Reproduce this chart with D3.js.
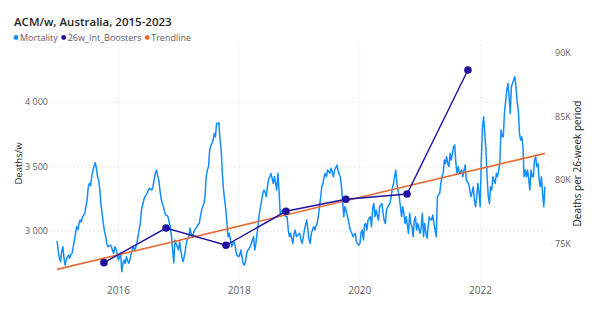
<!DOCTYPE html>
<html>
<head>
<meta charset="utf-8">
<script src="https://cdn.jsdelivr.net/npm/d3@7"></script>
<style>
  html, body { margin: 0; padding: 0; background: #ffffff; }
  svg { display: block; font-family: "Segoe UI", "Open Sans", "Noto Sans", sans-serif; }
</style>
</head>
<body>
<svg id="chart" width="607" height="335"></svg>
<script>
// Weekly all-cause mortality, Australia (first week ends 2014-12-28)
const firstWeek = "2014-12-28";
const mortality = [
  2925,2850,2790,2762,2840,2879,2790,2736,2780,2800,2814,2790,2820,2827,2879,2930,2980,3034,3010,3060,
  3085,3070,3110,3124,3137,3190,3240,3344,3370,3350,3421,3470,3499,3530,3490,3420,3395,3318,3200,3137,
  3059,3000,2960,2904,2879,2885,2891,2879,2850,2827,2879,2860,2827,2775,2800,2827,2685,2750,2775,2749,
  2801,2770,2749,2775,2820,2853,2879,2853,2870,2904,2956,3010,3059,3163,3200,3240,3266,3280,3292,3318,
  3331,3325,3318,3344,3400,3447,3473,3430,3395,3318,3250,3214,3189,3150,3124,3120,3111,3070,3034,2956,
  2850,2754,2930,2904,2880,2853,2917,2850,2801,2762,2800,2853,2917,2940,2956,3021,2980,2956,2982,3008,
  3020,3034,3050,3059,3111,3163,3190,3214,3266,3421,3470,3499,3628,3660,3680,3705,3757,3731,3835,3830,
  3840,3705,3628,3447,3318,3240,3163,3059,2956,2982,2930,2879,2904,2917,2890,2827,2810,2801,2814,2853,
  2800,2749,2736,2760,2827,2853,2860,2879,2904,2930,2956,2853,2904,2980,3059,3137,3190,3240,3292,3318,
  3300,3266,3344,3400,3421,3447,3410,3370,3421,3370,3318,3447,3318,3137,3150,3163,3140,3124,3111,3111,
  3008,2956,2982,2940,2904,2980,3008,2956,2969,2975,2982,2930,2904,2956,3008,3050,3085,3008,2930,2904,
  2982,3010,3034,3008,3040,3059,3111,3189,3260,3344,3370,3420,3447,3421,3473,3460,3447,3486,3460,3421,
  3473,3490,3512,3473,3440,3421,3344,3240,3111,3189,3163,3120,3085,3034,3000,2982,2956,2970,2982,2917,
  2900,2891,2904,2990,3008,2930,3050,3059,3008,3085,3100,3111,3034,3180,3214,3111,3163,3120,3085,3189,
  3200,3214,3137,3080,3059,3163,3189,3200,3214,3266,3330,3369,3421,3473,3369,3310,3266,3189,3111,3189,
  3137,3059,3111,3050,2982,3137,3060,3034,2956,3080,3111,3008,3059,3020,2982,3034,3137,2956,3059,2990,
  2943,3034,3111,3090,3085,3124,3060,3008,2956,3266,3280,3292,3369,3420,3447,3550,3524,3576,3520,3499,
  3602,3550,3600,3654,3667,3524,3447,3499,3447,3460,3473,3421,3470,3512,3395,3380,3369,3318,3266,3300,
  3344,3240,3189,3266,3369,3300,3189,3550,3809,3886,3757,3628,3421,3266,3214,3344,3318,3421,3390,3369,
  3447,3421,3470,3524,3783,3731,3731,3912,4000,4093,4145,4041,3912,4119,4145,4170,4196,4119,4000,3938,
  3757,3705,3731,3654,3421,3473,3421,3473,3400,3318,3473,3421,3421,3550,3576,3499,3524,3400,3344,3421,
  3292,3189,3344
];

// Deaths per 26-week period (right axis)
const boosterDates  = ["2015-10-08","2016-10-18","2017-10-16","2018-10-14","2019-10-12","2020-10-16","2021-10-20"];
const boosterValues = [73540, 76250, 74900, 77560, 78500, 78910, 88620];

// Linear trend of weekly deaths (start and end)
const trendDates  = ["2014-12-28", "2023-01-29"];
const trendValues = [2703, 3602];

const leftTicks  = [3000, 3500, 4000];
const rightTicks = [75000, 80000, 85000, 90000];
const yearTicks  = [2016, 2018, 2020, 2022];

const colors = { mortality: "#118DFF", boosters: "#22119E", trend: "#E66C37" };
const gridColor = "#DDDBD9";
const labelFont = "\"Segoe UI\", \"Open Sans\", sans-serif";

const parse = d3.utcParse("%Y-%m-%d");
const start = parse(firstWeek);
const weekly = mortality.map((v, i) => ({ date: d3.utcDay.offset(start, i * 7), value: v }));
const boosters = boosterDates.map((d, i) => ({ date: parse(d), value: boosterValues[i] }));
const trend = trendDates.map((d, i) => ({ date: parse(d), value: trendValues[i] }));

const svg = d3.select("#chart");

const plot = { left: 50, right: 548, top: 45, bottom: 282 };

const x = d3.scaleUtc()
  .domain([new Date(Date.UTC(2016, 0, 1)), new Date(Date.UTC(2022, 0, 1))])
  .range([118, 480]);
const yL = d3.scaleLinear().domain([2605, 4442]).range([plot.bottom, plot.top]);
const yR = d3.scaleLinear().domain([72027, 90571]).range([plot.bottom, plot.top]);

const loc = d3.formatLocale({ decimal: ".", thousands: "\u00a0", grouping: [3], currency: ["", ""] });
const fmtL = loc.format(",");

// Title
svg.append("text")
  .attr("x", 14).attr("y", 26)
  .attr("font-size", 11.5).attr("font-weight", 600)
  .attr("fill", "#252423")
  .text("ACM/w, Australia, 2015-2023");

// Legend
const legendItems = [
  { label: "Mortality", color: colors.mortality },
  { label: "26w_Int_Boosters", color: colors.boosters },
  { label: "Trendline", color: colors.trend }
];
const legend = svg.append("g").attr("transform", "translate(16,37.5)");
let lx = 0;
legendItems.forEach(item => {
  const g = legend.append("g").attr("transform", `translate(${lx},0)`);
  g.append("circle").attr("cx", 0).attr("cy", 0).attr("r", 2.4).attr("fill", item.color);
  const t = g.append("text").attr("x", 4).attr("y", 3.2)
    .attr("font-size", 9).attr("fill", "#605E5C").text(item.label);
  lx += 4 + t.node().getComputedTextLength() + 6;
});

// Left axis with horizontal gridlines
const axL = svg.append("g").attr("transform", `translate(${plot.left},0)`)
  .call(d3.axisLeft(yL).tickValues(leftTicks).tickFormat(fmtL)
    .tickSize(-(plot.right - plot.left)).tickPadding(2));
axL.select(".domain").remove();
axL.selectAll(".tick line").attr("stroke", gridColor).attr("stroke-dasharray", "1,3");
axL.selectAll(".tick text").attr("font-size", 9).attr("fill", "#605E5C")
  .attr("font-family", labelFont);

// Bottom axis with vertical gridlines
const axB = svg.append("g").attr("transform", `translate(0,${plot.bottom})`)
  .call(d3.axisBottom(x)
    .tickValues(yearTicks.map(yr => new Date(Date.UTC(yr, 0, 1))))
    .tickFormat(d3.utcFormat("%Y"))
    .tickSize(-(plot.bottom - plot.top)).tickPadding(4.5));
axB.select(".domain").remove();
axB.selectAll(".tick line").attr("stroke", gridColor).attr("stroke-dasharray", "1,3");
axB.selectAll(".tick text").attr("font-size", 10).attr("fill", "#605E5C")
  .attr("font-family", labelFont);

// Right axis
const axR = svg.append("g").attr("transform", `translate(551,0)`)
  .call(d3.axisRight(yR).tickValues(rightTicks).tickFormat(d => d / 1000 + "K")
    .tickSize(1).tickPadding(3));
axR.select(".domain").remove();
axR.selectAll(".tick line").attr("stroke", gridColor);
axR.selectAll(".tick text").attr("font-size", 9).attr("fill", "#605E5C")
  .attr("font-family", labelFont);

// Axis titles
svg.append("text")
  .attr("transform", `translate(22,${(plot.top + plot.bottom) / 2}) rotate(-90)`)
  .attr("text-anchor", "middle").attr("font-size", 9.5).attr("fill", "#252423")
  .text("Deaths/w");
svg.append("text")
  .attr("transform", `translate(581,${(plot.top + plot.bottom) / 2}) rotate(-90)`)
  .attr("text-anchor", "middle").attr("font-size", 10).attr("fill", "#252423")
  .text("Deaths per 26-week period");

// Weekly mortality line
svg.append("path")
  .datum(weekly)
  .attr("fill", "none")
  .attr("stroke", colors.mortality)
  .attr("stroke-width", 1.5)
  .attr("stroke-linejoin", "round")
  .attr("d", d3.line().x(d => x(d.date)).y(d => yL(d.value)));

// Trendline
svg.append("path")
  .datum(trend)
  .attr("fill", "none")
  .attr("stroke", colors.trend)
  .attr("stroke-width", 1.6)
  .attr("d", d3.line().x(d => x(d.date)).y(d => yL(d.value)));

// 26-week boosters series
svg.append("path")
  .datum(boosters)
  .attr("fill", "none")
  .attr("stroke", colors.boosters)
  .attr("stroke-width", 1.4)
  .attr("d", d3.line().x(d => x(d.date)).y(d => yR(d.value)));
svg.append("g").selectAll("circle")
  .data(boosters)
  .join("circle")
  .attr("cx", d => x(d.date))
  .attr("cy", d => yR(d.value))
  .attr("r", 3.8)
  .attr("fill", colors.boosters);
</script>
</body>
</html>
